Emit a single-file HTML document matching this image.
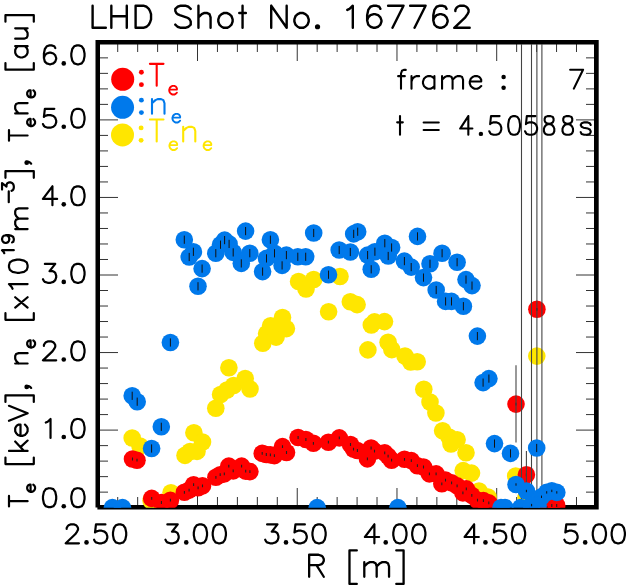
<!DOCTYPE html>
<html><head><meta charset="utf-8"><style>
html,body{margin:0;padding:0;background:#fff;}
body{width:627px;height:587px;overflow:hidden;font-family:"Liberation Sans",sans-serif;}
svg{display:block;}
</style></head><body>
<svg width="627" height="587" viewBox="0 0 627 587"><defs><clipPath id="pc"><rect x="97.76" y="42.35" width="498.64" height="465.3"/></clipPath></defs><path d="M117.71 505V497M117.71 44V52M137.66 505V497M137.66 44V52M157.61 505V497M157.61 44V52M177.55 505V497M177.55 44V52M197.5 505V488M197.5 44V61M217.45 505V497M217.45 44V52M237.39 505V497M237.39 44V52M257.34 505V497M257.34 44V52M277.29 505V497M277.29 44V52M297.24 505V488M297.24 44V61M317.18 505V497M317.18 44V52M337.13 505V497M337.13 44V52M357.08 505V497M357.08 44V52M377.02 505V497M377.02 44V52M396.97 505V488M396.97 44V61M416.92 505V497M416.92 44V52M436.86 505V497M436.86 44V52M456.81 505V497M456.81 44V52M476.76 505V497M476.76 44V52M496.7 505V488M496.7 44V61M516.65 505V497M516.65 44V52M536.6 505V497M536.6 44V52M556.55 505V497M556.55 44V52M576.49 505V497M576.49 44V52M100 492.14H108M594 492.14H586M100 476.63H108M594 476.63H586M100 461.12H108M594 461.12H586M100 445.61H108M594 445.61H586M100 430.1H118M594 430.1H576M100 414.59H108M594 414.59H586M100 399.08H108M594 399.08H586M100 383.57H108M594 383.57H586M100 368.06H108M594 368.06H586M100 352.55H118M594 352.55H576M100 337.04H108M594 337.04H586M100 321.53H108M594 321.53H586M100 306.02H108M594 306.02H586M100 290.51H108M594 290.51H586M100 275H118M594 275H576M100 259.49H108M594 259.49H586M100 243.98H108M594 243.98H586M100 228.47H108M594 228.47H586M100 212.96H108M594 212.96H586M100 197.45H118M594 197.45H576M100 181.94H108M594 181.94H586M100 166.43H108M594 166.43H586M100 150.92H108M594 150.92H586M100 135.41H108M594 135.41H586M100 119.9H118M594 119.9H576M100 104.39H108M594 104.39H586M100 88.88H108M594 88.88H586M100 73.37H108M594 73.37H586M100 57.86H108M594 57.86H586" stroke="#333" stroke-width="1" fill="none"/><path d="M95.5 40H598.7V509.6H97.4V507.5H95.5Z M100 44.4V505H594V44.4Z" fill="#000" fill-rule="evenodd"/><g clip-path="url(#pc)"><g fill="#ffe600"><circle cx="132.2" cy="438" r="8.8"/><circle cx="140" cy="446" r="8.8"/><circle cx="171" cy="492.8" r="8.8"/><circle cx="151" cy="500.5" r="8.8"/><circle cx="193.9" cy="432.8" r="8.8"/><circle cx="202.5" cy="442" r="8.8"/><circle cx="197" cy="451.4" r="8.8"/><circle cx="185" cy="455.4" r="8.8"/><circle cx="190" cy="451.5" r="8.8"/><circle cx="215.8" cy="408.2" r="8.8"/><circle cx="220.6" cy="394.5" r="8.8"/><circle cx="227" cy="390" r="8.8"/><circle cx="233.6" cy="385.5" r="8.8"/><circle cx="228.9" cy="367.8" r="8.8"/><circle cx="245.2" cy="378.5" r="8.8"/><circle cx="250" cy="389" r="8.8"/><circle cx="262.8" cy="343.2" r="8.8"/><circle cx="266.6" cy="333.6" r="8.8"/><circle cx="270.6" cy="325.8" r="8.8"/><circle cx="276.1" cy="337.1" r="8.8"/><circle cx="282.5" cy="317.5" r="8.8"/><circle cx="286.4" cy="328.6" r="8.8"/><circle cx="298.6" cy="281.5" r="8.8"/><circle cx="306" cy="289" r="8.8"/><circle cx="313.7" cy="279.5" r="8.8"/><circle cx="328.6" cy="311.8" r="8.8"/><circle cx="340" cy="276.5" r="8.8"/><circle cx="350.3" cy="301.7" r="8.8"/><circle cx="357.1" cy="304.6" r="8.8"/><circle cx="371.3" cy="325" r="8.8"/><circle cx="374.5" cy="321.9" r="8.8"/><circle cx="384.5" cy="321.6" r="8.8"/><circle cx="367.9" cy="349.9" r="8.8"/><circle cx="388.1" cy="342.3" r="8.8"/><circle cx="391.8" cy="349.6" r="8.8"/><circle cx="405" cy="356" r="8.8"/><circle cx="410.7" cy="362" r="8.8"/><circle cx="417.2" cy="361.8" r="8.8"/><circle cx="423.8" cy="389.2" r="8.8"/><circle cx="430" cy="402" r="8.8"/><circle cx="435.9" cy="413" r="8.8"/><circle cx="442.6" cy="430.8" r="8.8"/><circle cx="449" cy="437" r="8.8"/><circle cx="457.1" cy="439.7" r="8.8"/><circle cx="451" cy="444" r="8.8"/><circle cx="466" cy="452.8" r="8.8"/><circle cx="463.2" cy="470.6" r="8.8"/><circle cx="471.5" cy="473.1" r="8.8"/><circle cx="479" cy="491" r="8.8"/><circle cx="488" cy="497" r="8.8"/><circle cx="515.7" cy="476" r="8.8"/><circle cx="526" cy="498" r="8.8"/><circle cx="536.8" cy="356.1" r="8.8"/></g><g fill="#ff0000"><circle cx="132.5" cy="459" r="8.8"/><circle cx="137" cy="460.2" r="8.8"/><circle cx="151.7" cy="498.4" r="8.8"/><circle cx="161.4" cy="502.5" r="8.8"/><circle cx="170.4" cy="500.2" r="8.8"/><circle cx="184.4" cy="492.3" r="8.8"/><circle cx="189.1" cy="490.1" r="8.8"/><circle cx="193.6" cy="484.7" r="8.8"/><circle cx="198.1" cy="487.8" r="8.8"/><circle cx="202.5" cy="485.9" r="8.8"/><circle cx="215.9" cy="477.3" r="8.8"/><circle cx="220.2" cy="474.7" r="8.8"/><circle cx="224.3" cy="473.9" r="8.8"/><circle cx="228.8" cy="466.1" r="8.8"/><circle cx="233.2" cy="470.9" r="8.8"/><circle cx="241.6" cy="466.1" r="8.8"/><circle cx="245.7" cy="471.1" r="8.8"/><circle cx="249.9" cy="471.6" r="8.8"/><circle cx="262.2" cy="453.4" r="8.8"/><circle cx="266.3" cy="454.5" r="8.8"/><circle cx="270.4" cy="454.9" r="8.8"/><circle cx="274.4" cy="455.6" r="8.8"/><circle cx="282.5" cy="446.6" r="8.8"/><circle cx="286.5" cy="452.5" r="8.8"/><circle cx="298.1" cy="437.5" r="8.8"/><circle cx="305.9" cy="439.5" r="8.8"/><circle cx="313.4" cy="443.3" r="8.8"/><circle cx="328.4" cy="442.2" r="8.8"/><circle cx="339.3" cy="437.9" r="8.8"/><circle cx="350.5" cy="444.5" r="8.8"/><circle cx="353.5" cy="449.1" r="8.8"/><circle cx="357.4" cy="450.5" r="8.8"/><circle cx="367.4" cy="458.9" r="8.8"/><circle cx="371.1" cy="448" r="8.8"/><circle cx="374.5" cy="451.1" r="8.8"/><circle cx="384.7" cy="452.9" r="8.8"/><circle cx="388.1" cy="456.1" r="8.8"/><circle cx="391.6" cy="460.2" r="8.8"/><circle cx="404.5" cy="459.3" r="8.8"/><circle cx="411.3" cy="460.6" r="8.8"/><circle cx="417.4" cy="465.7" r="8.8"/><circle cx="423.5" cy="467" r="8.8"/><circle cx="429.4" cy="473.9" r="8.8"/><circle cx="436.1" cy="473.9" r="8.8"/><circle cx="441.8" cy="483.8" r="8.8"/><circle cx="445.5" cy="480.1" r="8.8"/><circle cx="451.6" cy="482.9" r="8.8"/><circle cx="457.1" cy="485.9" r="8.8"/><circle cx="462.9" cy="492.9" r="8.8"/><circle cx="466.3" cy="488.9" r="8.8"/><circle cx="471.8" cy="495.4" r="8.8"/><circle cx="477.5" cy="500.2" r="8.8"/><circle cx="483.4" cy="500.6" r="8.8"/><circle cx="488.8" cy="502.9" r="8.8"/><circle cx="516" cy="404.1" r="8.8"/><circle cx="526.4" cy="474.8" r="8.8"/><circle cx="536.9" cy="309.3" r="8.8"/><circle cx="547" cy="507.6" r="8.8"/><circle cx="551.8" cy="505.5" r="8.8"/><circle cx="556.7" cy="505.5" r="8.8"/></g><path d="M132.5 457.6V460.4M137 458.8V461.6M151.7 497V499.8M161.4 501.1V503.9M170.4 498.8V501.6M184.4 490.9V493.7M189.1 488.7V491.5M193.6 483.3V486.1M198.1 486.4V489.2M202.5 484.5V487.3M215.9 475.9V478.7M220.2 473.3V476.1M224.3 472.5V475.3M228.8 464.7V467.5M233.2 469.5V472.3M241.6 464.7V467.5M245.7 469.7V472.5M249.9 470.2V473M262.2 452V454.8M266.3 453.1V455.9M270.4 453.5V456.3M274.4 454.2V457M282.5 445.2V448M286.5 451.1V453.9M298.1 436.1V438.9M305.9 438.1V440.9M313.4 441.9V444.7M328.4 440.8V443.6M339.3 436.5V439.3M350.5 443.1V445.9M353.5 447.7V450.5M357.4 449.1V451.9M367.4 457.5V460.3M371.1 446.6V449.4M374.5 449.7V452.5M384.7 451.5V454.3M388.1 454.7V457.5M391.6 458.8V461.6M404.5 457.9V460.7M411.3 459.2V462M417.4 464.3V467.1M423.5 465.6V468.4M429.4 472.5V475.3M436.1 472.5V475.3M441.8 482.4V485.2M445.5 478.7V481.5M451.6 481.5V484.3M457.1 484.5V487.3M462.9 491.5V494.3M466.3 487.5V490.3M471.8 494V496.8M477.5 498.8V501.6M483.4 499.2V502M488.8 501.5V504.3M516 402.7V405.5M526.4 473.4V476.2M536.9 307.9V310.7M547 506.2V509M551.8 504.1V506.9M556.7 504.1V506.9" stroke="#222" stroke-width="1.1" fill="none"/><path d="M516 365.3V442.6M526.4 451V498M521.5 44V505M531.5 44V505M536.9 44V505M541.9 44V505" stroke="#444" stroke-width="1.1" fill="none"/><g fill="#0079eb"><circle cx="112.4" cy="507.6" r="8.8"/><circle cx="122.5" cy="507.6" r="8.8"/><circle cx="132.2" cy="395.8" r="8.8"/><circle cx="137.2" cy="401.7" r="8.8"/><circle cx="151.6" cy="448.5" r="8.8"/><circle cx="161.3" cy="426.8" r="8.8"/><circle cx="170.4" cy="342.5" r="8.8"/><circle cx="184.3" cy="239.7" r="8.8"/><circle cx="193.4" cy="251.8" r="8.8"/><circle cx="189.2" cy="257" r="8.8"/><circle cx="202.1" cy="268.6" r="8.8"/><circle cx="198" cy="286.3" r="8.8"/><circle cx="215.8" cy="253.2" r="8.8"/><circle cx="220.5" cy="244.7" r="8.8"/><circle cx="224.6" cy="240.1" r="8.8"/><circle cx="229.1" cy="243.9" r="8.8"/><circle cx="233.2" cy="252.4" r="8.8"/><circle cx="241.3" cy="263.4" r="8.8"/><circle cx="245.6" cy="231.1" r="8.8"/><circle cx="249.8" cy="253.2" r="8.8"/><circle cx="262.6" cy="271.6" r="8.8"/><circle cx="266.5" cy="258.4" r="8.8"/><circle cx="270.4" cy="239.7" r="8.8"/><circle cx="274.5" cy="253.3" r="8.8"/><circle cx="282.1" cy="265.4" r="8.8"/><circle cx="286.4" cy="255.1" r="8.8"/><circle cx="297.8" cy="256.8" r="8.8"/><circle cx="305.7" cy="256.8" r="8.8"/><circle cx="313.7" cy="233" r="8.8"/><circle cx="317.2" cy="507.6" r="8.8"/><circle cx="328.5" cy="274.7" r="8.8"/><circle cx="339.2" cy="250" r="8.8"/><circle cx="350.3" cy="252" r="8.8"/><circle cx="353.7" cy="233.9" r="8.8"/><circle cx="357.7" cy="231.7" r="8.8"/><circle cx="367.6" cy="255.1" r="8.8"/><circle cx="374.9" cy="251.7" r="8.8"/><circle cx="371.2" cy="269.3" r="8.8"/><circle cx="384.8" cy="243.2" r="8.8"/><circle cx="391.6" cy="247.5" r="8.8"/><circle cx="388.2" cy="256" r="8.8"/><circle cx="397.9" cy="507.6" r="8.8"/><circle cx="404.4" cy="261.1" r="8.8"/><circle cx="411.2" cy="267.1" r="8.8"/><circle cx="417.5" cy="236.4" r="8.8"/><circle cx="423.5" cy="277.6" r="8.8"/><circle cx="430" cy="263.8" r="8.8"/><circle cx="436.2" cy="290" r="8.8"/><circle cx="442.1" cy="253.2" r="8.8"/><circle cx="445.6" cy="301.4" r="8.8"/><circle cx="451.5" cy="301.4" r="8.8"/><circle cx="457.1" cy="262.2" r="8.8"/><circle cx="463.4" cy="306.2" r="8.8"/><circle cx="466" cy="279.6" r="8.8"/><circle cx="472" cy="285.6" r="8.8"/><circle cx="477.4" cy="336.1" r="8.8"/><circle cx="483.1" cy="382.6" r="8.8"/><circle cx="488.9" cy="378.6" r="8.8"/><circle cx="494.5" cy="443.6" r="8.8"/><circle cx="510.5" cy="453.4" r="8.8"/><circle cx="536.7" cy="448" r="8.8"/><circle cx="516" cy="484.5" r="8.8"/><circle cx="526.4" cy="491" r="8.8"/><circle cx="541.5" cy="496.8" r="8.8"/><circle cx="546.7" cy="492.4" r="8.8"/><circle cx="551.8" cy="490.9" r="8.8"/><circle cx="556.8" cy="492.4" r="8.8"/><circle cx="501" cy="507.6" r="8.8"/><circle cx="505" cy="507.6" r="8.8"/><circle cx="520.6" cy="507.6" r="8.8"/><circle cx="531.6" cy="505.1" r="8.8"/><circle cx="538" cy="505.5" r="8.8"/></g><path d="M132.2 391.7V399.9M137.2 397.6V405.8M151.6 444.4V452.6M161.3 422.7V430.9M170.4 338.4V346.6M184.3 235.6V243.8M193.4 247.7V255.9M189.2 252.9V261.1M202.1 264.5V272.7M198 282.2V290.4M215.8 249.1V257.3M220.5 240.6V248.8M224.6 236V244.2M229.1 239.8V248M233.2 248.3V256.5M241.3 259.3V267.5M245.6 227V235.2M249.8 249.1V257.3M262.6 267.5V275.7M266.5 254.3V262.5M270.4 235.6V243.8M274.5 249.2V257.4M282.1 261.3V269.5M286.4 251V259.2M297.8 252.7V260.9M305.7 252.7V260.9M313.7 228.9V237.1M328.5 270.6V278.8M339.2 245.9V254.1M350.3 247.9V256.1M353.7 229.8V238M357.7 227.6V235.8M367.6 251V259.2M374.9 247.6V255.8M371.2 265.2V273.4M384.8 239.1V247.3M391.6 243.4V251.6M388.2 251.9V260.1M404.4 257V265.2M411.2 263V271.2M417.5 232.3V240.5M423.5 273.5V281.7M430 259.7V267.9M436.2 285.9V294.1M442.1 249.1V257.3M445.6 297.3V305.5M451.5 297.3V305.5M457.1 258.1V266.3M463.4 302.1V310.3M466 275.5V283.7M472 281.5V289.7M477.4 332V340.2M483.1 378.5V386.7M488.9 374.5V382.7M494.5 439.5V447.7M510.5 449.3V457.5M536.7 443.9V452.1M516 483.3V485.7M526.4 489.8V492.2M541.5 495.6V498M546.7 491.2V493.6M551.8 489.7V492.1M556.8 491.2V493.6M531.6 503.9V506.3" stroke="#111" stroke-width="1" fill="none"/></g><circle cx="122.7" cy="79.25" r="11.5" fill="#ff0000"/><circle cx="122.55" cy="107.35" r="11.5" fill="#0079eb"/><circle cx="122.5" cy="134.9" r="11.5" fill="#ffe600"/><path d="M92.6 5.71L92.6 27.8M92.6 27.8L105.83 27.8M111.34 5.71L111.34 27.8M126.78 5.71L126.78 27.8M111.34 16.23L126.78 16.23M135.6 5.71L135.6 27.8M135.6 5.71L143.32 5.71L146.63 6.76L148.83 8.86L149.94 10.97L151.04 14.12L151.04 19.38L149.94 22.54L148.83 24.64L146.63 26.75L143.32 27.8L135.6 27.8M190.73 8.86L188.53 6.76L185.22 5.71L180.81 5.71L177.5 6.76L175.3 8.86L175.3 10.97L176.4 13.07L177.5 14.12L179.71 15.18L186.32 17.28L188.53 18.33L189.63 19.38L190.73 21.49L190.73 24.64L188.53 26.75L185.22 27.8L180.81 27.8L177.5 26.75L175.3 24.64M198.45 5.71L198.45 27.8M198.45 17.28L201.76 14.12L203.96 13.07L207.27 13.07L209.48 14.12L210.58 17.28L210.58 27.8M223.81 13.07L221.6 14.12L219.4 16.23L218.3 19.38L218.3 21.49L219.4 24.64L221.6 26.75L223.81 27.8L227.12 27.8L229.32 26.75L231.53 24.64L232.63 21.49L232.63 19.38L231.53 16.23L229.32 14.12L227.12 13.07L223.81 13.07M242.55 5.71L242.55 27.8M239.25 13.07L245.86 13.07M271.22 5.71L271.22 27.8M271.22 5.71L286.66 27.8M286.66 5.71L286.66 27.8M299.89 13.07L297.68 14.12L295.48 16.23L294.38 19.38L294.38 21.49L295.48 24.64L297.68 26.75L299.89 27.8L303.2 27.8L305.4 26.75L307.61 24.64L308.71 21.49L308.71 19.38L307.61 16.23L305.4 14.12L303.2 13.07L299.89 13.07M347.3 9.92L349.51 8.86L352.81 5.71L352.81 27.8M380.38 8.86L379.28 6.76L375.97 5.71L373.76 5.71L370.46 6.76L368.25 9.92L367.15 15.18L367.15 20.44L368.25 24.64L370.46 26.75L373.76 27.8L374.87 27.8L378.17 26.75L380.38 24.64L381.48 21.49L381.48 20.44L380.38 17.28L378.17 15.18L374.87 14.12L373.76 14.12L370.46 15.18L368.25 17.28L367.15 20.44M403.53 5.71L392.51 27.8M388.1 5.71L403.53 5.71M425.59 5.71L414.56 27.8M410.15 5.71L425.59 5.71M446.53 8.86L445.43 6.76L442.12 5.71L439.92 5.71L436.61 6.76L434.41 9.92L433.3 15.18L433.3 20.44L434.41 24.64L436.61 26.75L439.92 27.8L441.02 27.8L444.33 26.75L446.53 24.64L447.64 21.49L447.64 20.44L446.53 17.28L444.33 15.18L441.02 14.12L439.92 14.12L436.61 15.18L434.41 17.28L433.3 20.44M455.36 10.97L455.36 9.92L456.46 7.81L457.56 6.76L459.77 5.71L464.18 5.71L466.38 6.76L467.48 7.81L468.59 9.92L468.59 12.02L467.48 14.12L465.28 17.28L454.25 27.8L469.69 27.8" stroke="#000" stroke-width="2.4" fill="none" stroke-linecap="round" stroke-linejoin="round"/><g fill="#000"><circle cx="317.53" cy="26.75" r="2.6"/></g><path d="M48.64 488.25L45.8 489.15L43.91 491.85L42.97 496.35L42.97 499.05L43.91 503.55L45.8 506.25L48.64 507.15L50.53 507.15L53.36 506.25L55.25 503.55L56.2 499.05L56.2 496.35L55.25 491.85L53.36 489.15L50.53 488.25L48.64 488.25M76.99 488.25L74.16 489.15L72.27 491.85L71.32 496.35L71.32 499.05L72.27 503.55L74.16 506.25L76.99 507.15L78.88 507.15L81.72 506.25L83.61 503.55L84.55 499.05L84.55 496.35L83.61 491.85L81.72 489.15L78.88 488.25L76.99 488.25M45.8 422.6L47.7 421.7L50.53 419L50.53 437.9M76.99 419L74.16 419.9L72.27 422.6L71.32 427.1L71.32 429.8L72.27 434.3L74.16 437L76.99 437.9L78.88 437.9L81.72 437L83.61 434.3L84.55 429.8L84.55 427.1L83.61 422.6L81.72 419.9L78.88 419L76.99 419M43.91 345.95L43.91 345.05L44.86 343.25L45.8 342.35L47.7 341.45L51.47 341.45L53.36 342.35L54.31 343.25L55.25 345.05L55.25 346.85L54.31 348.65L52.42 351.35L42.97 360.35L56.2 360.35M76.99 341.45L74.16 342.35L72.27 345.05L71.32 349.55L71.32 352.25L72.27 356.75L74.16 359.45L76.99 360.35L78.88 360.35L81.72 359.45L83.61 356.75L84.55 352.25L84.55 349.55L83.61 345.05L81.72 342.35L78.88 341.45L76.99 341.45M44.86 263.9L55.25 263.9L49.58 271.1L52.42 271.1L54.31 272L55.25 272.9L56.2 275.6L56.2 277.4L55.25 280.1L53.36 281.9L50.53 282.8L47.7 282.8L44.86 281.9L43.91 281L42.97 279.2M76.99 263.9L74.16 264.8L72.27 267.5L71.32 272L71.32 274.7L72.27 279.2L74.16 281.9L76.99 282.8L78.88 282.8L81.72 281.9L83.61 279.2L84.55 274.7L84.55 272L83.61 267.5L81.72 264.8L78.88 263.9L76.99 263.9M52.42 186.35L42.97 198.95L57.14 198.95M52.42 186.35L52.42 205.25M76.99 186.35L74.16 187.25L72.27 189.95L71.32 194.45L71.32 197.15L72.27 201.65L74.16 204.35L76.99 205.25L78.88 205.25L81.72 204.35L83.61 201.65L84.55 197.15L84.55 194.45L83.61 189.95L81.72 187.25L78.88 186.35L76.99 186.35M54.31 108.8L44.86 108.8L43.91 116.9L44.86 116L47.7 115.1L50.53 115.1L53.36 116L55.25 117.8L56.2 120.5L56.2 122.3L55.25 125L53.36 126.8L50.53 127.7L47.7 127.7L44.86 126.8L43.91 125.9L42.97 124.1M76.99 108.8L74.16 109.7L72.27 112.4L71.32 116.9L71.32 119.6L72.27 124.1L74.16 126.8L76.99 127.7L78.88 127.7L81.72 126.8L83.61 124.1L84.55 119.6L84.55 116.9L83.61 112.4L81.72 109.7L78.88 108.8L76.99 108.8M55.25 48.1L54.31 46.3L51.47 45.4L49.58 45.4L46.75 46.3L44.86 49L43.91 53.5L43.91 58L44.86 61.6L46.75 63.4L49.58 64.3L50.53 64.3L53.36 63.4L55.25 61.6L56.2 58.9L56.2 58L55.25 55.3L53.36 53.5L50.53 52.6L49.58 52.6L46.75 53.5L44.86 55.3L43.91 58M76.99 45.4L74.16 46.3L72.27 49L71.32 53.5L71.32 56.2L72.27 60.7L74.16 63.4L76.99 64.3L78.88 64.3L81.72 63.4L83.61 60.7L84.55 56.2L84.55 53.5L83.61 49L81.72 46.3L78.88 45.4L76.99 45.4M66.67 528.9L66.67 528L67.62 526.2L68.56 525.3L70.45 524.4L74.23 524.4L76.12 525.3L77.07 526.2L78.01 528L78.01 529.8L77.07 531.6L75.18 534.3L65.73 543.3L78.96 543.3M105.42 524.4L95.97 524.4L95.02 532.5L95.97 531.6L98.8 530.7L101.64 530.7L104.47 531.6L106.36 533.4L107.31 536.1L107.31 537.9L106.36 540.6L104.47 542.4L101.64 543.3L98.8 543.3L95.97 542.4L95.02 541.5L94.08 539.7M118.65 524.4L115.81 525.3L113.92 528L112.98 532.5L112.98 535.2L113.92 539.7L115.81 542.4L118.65 543.3L120.54 543.3L123.37 542.4L125.26 539.7L126.21 535.2L126.21 532.5L125.26 528L123.37 525.3L120.54 524.4L118.65 524.4M167.35 524.4L177.75 524.4L172.07 531.6L174.91 531.6L176.8 532.5L177.75 533.4L178.69 536.1L178.69 537.9L177.75 540.6L175.85 542.4L173.02 543.3L170.19 543.3L167.35 542.4L166.41 541.5L165.46 539.7M199.48 524.4L196.64 525.3L194.75 528L193.81 532.5L193.81 535.2L194.75 539.7L196.64 542.4L199.48 543.3L201.37 543.3L204.2 542.4L206.09 539.7L207.04 535.2L207.04 532.5L206.09 528L204.2 525.3L201.37 524.4L199.48 524.4M218.38 524.4L215.54 525.3L213.66 528L212.71 532.5L212.71 535.2L213.66 539.7L215.54 542.4L218.38 543.3L220.27 543.3L223.1 542.4L225 539.7L225.94 535.2L225.94 532.5L225 528L223.1 525.3L220.27 524.4L218.38 524.4M267.09 524.4L277.48 524.4L271.81 531.6L274.65 531.6L276.54 532.5L277.48 533.4L278.43 536.1L278.43 537.9L277.48 540.6L275.59 542.4L272.75 543.3L269.92 543.3L267.09 542.4L266.14 541.5L265.19 539.7M304.88 524.4L295.44 524.4L294.49 532.5L295.44 531.6L298.27 530.7L301.1 530.7L303.94 531.6L305.83 533.4L306.77 536.1L306.77 537.9L305.83 540.6L303.94 542.4L301.1 543.3L298.27 543.3L295.44 542.4L294.49 541.5L293.54 539.7M318.11 524.4L315.28 525.3L313.39 528L312.44 532.5L312.44 535.2L313.39 539.7L315.28 542.4L318.11 543.3L320 543.3L322.84 542.4L324.73 539.7L325.67 535.2L325.67 532.5L324.73 528L322.84 525.3L320 524.4L318.11 524.4M374.38 524.4L364.93 537L379.11 537M374.38 524.4L374.38 543.3M398.95 524.4L396.12 525.3L394.22 528L393.28 532.5L393.28 535.2L394.22 539.7L396.12 542.4L398.95 543.3L400.84 543.3L403.68 542.4L405.56 539.7L406.51 535.2L406.51 532.5L405.56 528L403.68 525.3L400.84 524.4L398.95 524.4M417.85 524.4L415.01 525.3L413.12 528L412.18 532.5L412.18 535.2L413.12 539.7L415.01 542.4L417.85 543.3L419.74 543.3L422.57 542.4L424.46 539.7L425.41 535.2L425.41 532.5L424.46 528L422.57 525.3L419.74 524.4L417.85 524.4M474.12 524.4L464.66 537L478.84 537M474.12 524.4L474.12 543.3M504.35 524.4L494.9 524.4L493.96 532.5L494.9 531.6L497.74 530.7L500.57 530.7L503.41 531.6L505.3 533.4L506.24 536.1L506.24 537.9L505.3 540.6L503.41 542.4L500.57 543.3L497.74 543.3L494.9 542.4L493.96 541.5L493.01 539.7M517.58 524.4L514.75 525.3L512.86 528L511.91 532.5L511.91 535.2L512.86 539.7L514.75 542.4L517.58 543.3L519.47 543.3L522.31 542.4L524.2 539.7L525.14 535.2L525.14 532.5L524.2 528L522.31 525.3L519.47 524.4L517.58 524.4M575.74 524.4L566.29 524.4L565.35 532.5L566.29 531.6L569.12 530.7L571.96 530.7L574.8 531.6L576.69 533.4L577.63 536.1L577.63 537.9L576.69 540.6L574.8 542.4L571.96 543.3L569.12 543.3L566.29 542.4L565.35 541.5L564.4 539.7M598.42 524.4L595.59 525.3L593.7 528L592.75 532.5L592.75 535.2L593.7 539.7L595.59 542.4L598.42 543.3L600.31 543.3L603.15 542.4L605.04 539.7L605.98 535.2L605.98 532.5L605.04 528L603.15 525.3L600.31 524.4L598.42 524.4M617.32 524.4L614.49 525.3L612.6 528L611.65 532.5L611.65 535.2L612.6 539.7L614.49 542.4L617.32 543.3L619.21 543.3L622.05 542.4L623.94 539.7L624.88 535.2L624.88 532.5L623.94 528L622.05 525.3L619.21 524.4L617.32 524.4" stroke="#000" stroke-width="2.2" fill="none" stroke-linecap="round" stroke-linejoin="round"/><g fill="#000"><circle cx="63.76" cy="506.25" r="2.3"/><circle cx="63.76" cy="437" r="2.3"/><circle cx="63.76" cy="359.45" r="2.3"/><circle cx="63.76" cy="281.9" r="2.3"/><circle cx="63.76" cy="204.35" r="2.3"/><circle cx="63.76" cy="126.8" r="2.3"/><circle cx="63.76" cy="63.4" r="2.3"/><circle cx="86.52" cy="542.4" r="2.3"/><circle cx="186.25" cy="542.4" r="2.3"/><circle cx="285.99" cy="542.4" r="2.3"/><circle cx="385.72" cy="542.4" r="2.3"/><circle cx="485.45" cy="542.4" r="2.3"/><circle cx="585.19" cy="542.4" r="2.3"/></g><path d="M309.15 554.74L309.15 576.75M309.15 554.74L318.56 554.74L321.69 555.79L322.74 556.84L323.78 558.93L323.78 561.03L322.74 563.13L321.69 564.17L318.56 565.22L309.15 565.22M316.47 565.22L323.78 576.75M349.48 550.4L349.48 583.94M349.48 550.4L356.8 550.4M349.48 583.94L356.8 583.94M364.3 562.13L364.3 576.8M364.3 566.32L367.68 563.18L369.93 562.13L373.3 562.13L375.55 563.18L376.68 566.32L376.68 576.8M376.68 566.32L380.05 563.18L382.3 562.13L385.68 562.13L387.93 563.18L389.05 566.32L389.05 576.8M403.6 550.4L403.6 583.94M396.28 550.4L403.6 550.4M396.28 583.94L403.6 583.94" stroke="#000" stroke-width="2.3" fill="none" stroke-linecap="round" stroke-linejoin="round"/><path d="M405.78 69.91L403.87 69.91L401.96 70.8L401 73.48L401 88.7M398.14 76.17L404.82 76.17M411.5 76.17L411.5 88.7M411.5 81.54L412.46 78.86L414.37 77.06L416.28 76.17L419.14 76.17M434.43 76.17L434.43 88.7M434.43 78.86L432.52 77.06L430.61 76.17L427.74 76.17L425.83 77.06L423.92 78.86L422.97 81.54L422.97 83.33L423.92 86.02L425.83 87.81L427.74 88.7L430.61 88.7L432.52 87.81L434.43 86.02M442.06 76.17L442.06 88.7M442.06 79.75L444.93 77.06L446.84 76.17L449.7 76.17L451.62 77.06L452.57 79.75L452.57 88.7M452.57 79.75L455.44 77.06L457.35 76.17L460.21 76.17L462.12 77.06L463.07 79.75L463.07 88.7M469.76 81.54L481.22 81.54L481.22 79.75L480.26 77.96L479.31 77.06L477.4 76.17L474.53 76.17L472.62 77.06L470.71 78.86L469.76 81.54L469.76 83.33L470.71 86.02L472.62 87.81L474.53 88.7L477.4 88.7L479.31 87.81L481.22 86.02M583.04 69.8L573.84 88.6M570.16 69.8L583.04 69.8" stroke="#000" stroke-width="2.1" fill="none" stroke-linecap="round" stroke-linejoin="round"/><g fill="#000"><circle cx="503.6" cy="77.06" r="2.25"/><circle cx="503.6" cy="87.81" r="2.25"/></g><path d="M400 116.11L400 134.8M397.16 122.34L402.83 122.34M423.64 122.43L438.76 122.43M423.64 129.99L438.76 129.99M468.33 116.11L460.2 128.57L472.4 128.57M468.33 116.11L468.33 134.8M499.59 116.11L491.01 116.11L490.16 124.12L491.01 123.23L493.59 122.34L496.16 122.34L498.73 123.23L500.44 125.01L501.3 127.68L501.3 129.46L500.44 132.13L498.73 133.91L496.16 134.8L493.59 134.8L491.01 133.91L490.16 133.02L489.3 131.24M513.26 116.11L510.73 117L509.04 119.67L508.2 124.12L508.2 126.79L509.04 131.24L510.73 133.91L513.26 134.8L514.94 134.8L517.47 133.91L519.16 131.24L520 126.79L520 124.12L519.16 119.67L517.47 117L514.94 116.11L513.26 116.11M535.39 116.11L526.81 116.11L525.96 124.12L526.81 123.23L529.39 122.34L531.96 122.34L534.53 123.23L536.24 125.01L537.1 127.68L537.1 129.46L536.24 132.13L534.53 133.91L531.96 134.8L529.39 134.8L526.81 133.91L525.96 133.02L525.1 131.24M547.61 116.11L545.39 117L544.64 118.78L544.64 120.56L545.39 122.34L546.87 123.23L549.84 124.12L552.07 125.01L553.56 126.79L554.3 128.57L554.3 131.24L553.56 133.02L552.81 133.91L550.59 134.8L547.61 134.8L545.39 133.91L544.64 133.02L543.9 131.24L543.9 128.57L544.64 126.79L546.13 125.01L548.36 124.12L551.33 123.23L552.81 122.34L553.56 120.56L553.56 118.78L552.81 117L550.59 116.11L547.61 116.11M566.25 116.11L564 117L563.25 118.78L563.25 120.56L564 122.34L565.5 123.23L568.5 124.12L570.75 125.01L572.25 126.79L573 128.57L573 131.24L572.25 133.02L571.5 133.91L569.25 134.8L566.25 134.8L564 133.91L563.25 133.02L562.5 131.24L562.5 128.57L563.25 126.79L564.75 125.01L567 124.12L570 123.23L571.5 122.34L572.25 120.56L572.25 118.78L571.5 117L569.25 116.11L566.25 116.11M590.7 125.01L589.79 123.23L587.06 122.34L584.34 122.34L581.61 123.23L580.7 125.01L581.61 126.79L583.43 127.68L587.97 128.57L589.79 129.46L590.7 131.24L590.7 132.13L589.79 133.91L587.06 134.8L584.34 134.8L581.61 133.91L580.7 132.13" stroke="#000" stroke-width="2.1" fill="none" stroke-linecap="round" stroke-linejoin="round"/><g fill="#000"><circle cx="480.9" cy="133.91" r="2.2"/></g><path d="M156.7 63.86L156.7 85.7M149.91 63.86L163.49 63.86" stroke="#ff0000" stroke-width="2.1" fill="none" stroke-linecap="round" stroke-linejoin="round"/><g fill="#ff0000"><circle cx="141.4" cy="72.18" r="2.45"/><circle cx="141.4" cy="84.66" r="2.45"/></g><path d="M169.25 89.59L176.93 89.59L176.93 88.35L176.29 87.11L175.65 86.49L174.37 85.87L172.45 85.87L171.17 86.49L169.89 87.73L169.25 89.59L169.25 90.83L169.89 92.69L171.17 93.93L172.45 94.55L174.37 94.55L175.65 93.93L176.93 92.69" stroke="#ff0000" stroke-width="1.9" fill="none" stroke-linecap="round" stroke-linejoin="round"/><path d="M152 99.09L152 113.65M152 103.25L155.41 100.13L157.68 99.09L161.09 99.09L163.36 100.13L164.5 103.25L164.5 113.65" stroke="#0079eb" stroke-width="2.1" fill="none" stroke-linecap="round" stroke-linejoin="round"/><g fill="#0079eb"><circle cx="141.4" cy="100.13" r="2.45"/><circle cx="141.4" cy="112.61" r="2.45"/></g><path d="M172.45 117.59L180.13 117.59L180.13 116.35L179.49 115.11L178.85 114.49L177.57 113.87L175.65 113.87L174.37 114.49L173.09 115.73L172.45 117.59L172.45 118.83L173.09 120.69L174.37 121.93L175.65 122.55L177.57 122.55L178.85 121.93L180.13 120.69" stroke="#0079eb" stroke-width="1.9" fill="none" stroke-linecap="round" stroke-linejoin="round"/><path d="M156.7 119.56L156.7 141.4M149.91 119.56L163.49 119.56M183.2 126.84L183.2 141.4M183.2 131L186.5 127.88L188.7 126.84L192 126.84L194.2 127.88L195.3 131L195.3 141.4" stroke="#ffe600" stroke-width="2.1" fill="none" stroke-linecap="round" stroke-linejoin="round"/><g fill="#ffe600"><circle cx="141.1" cy="127.88" r="2.45"/><circle cx="141.1" cy="140.36" r="2.45"/></g><path d="M169.45 145.09L177.13 145.09L177.13 143.85L176.49 142.61L175.85 141.99L174.57 141.37L172.65 141.37L171.37 141.99L170.09 143.23L169.45 145.09L169.45 146.33L170.09 148.19L171.37 149.43L172.65 150.05L174.57 150.05L175.85 149.43L177.13 148.19M203.6 145.09L211.28 145.09L211.28 143.85L210.64 142.61L210 141.99L208.72 141.37L206.8 141.37L205.52 141.99L204.24 143.23L203.6 145.09L203.6 146.33L204.24 148.19L205.52 149.43L206.8 150.05L208.72 150.05L210 149.43L211.28 148.19" stroke="#ffe600" stroke-width="1.9" fill="none" stroke-linecap="round" stroke-linejoin="round"/><path d="M8.99 501.18L27.6 501.18M8.99 506.44L8.99 495.92M5.45 464.06L33.8 464.06M5.45 464.06L5.45 457.48M33.8 464.06L33.8 457.48M8.99 450.9L27.6 450.9M15.2 441.5L24.06 450.9M20.51 447.14L27.6 440.56M20.51 435.86L20.51 424.58L18.74 424.58L16.97 425.52L16.08 426.46L15.2 428.34L15.2 431.16L16.08 433.04L17.85 434.92L20.51 435.86L22.28 435.86L24.94 434.92L26.71 433.04L27.6 431.16L27.6 428.34L26.71 426.46L24.94 424.58M8.99 420.82L27.6 413.3M8.99 405.78L27.6 413.3M5.45 395.44L33.8 395.44M5.45 402.02L5.45 395.44M33.8 402.02L33.8 395.44M26.71 386.04L28.49 386.04L30.26 386.98L31.14 387.92M15.2 363.48L27.6 363.48M18.74 363.48L16.08 360.66L15.2 358.78L15.2 355.96L16.08 354.08L18.74 353.14L27.6 353.14M5.45 319.78L33.8 319.78M5.45 319.78L5.45 313.2M33.8 319.78L33.8 313.2M15.2 307.56L27.6 297.22M15.2 297.22L27.6 307.56M12.54 288.76L11.65 286.88L8.99 284.06L27.6 284.06M8.99 267.14L9.88 269.96L12.54 271.84L16.97 272.78L19.63 272.78L24.06 271.84L26.71 269.96L27.6 267.14L27.6 265.26L26.71 262.44L24.06 260.56L19.63 259.62L16.97 259.62L12.54 260.56L9.88 262.44L8.99 265.26L8.99 267.14M15.2 229.04L27.6 229.04M18.74 229.04L16.08 226.22L15.2 224.34L15.2 221.52L16.08 219.64L18.74 218.7L27.6 218.7M18.74 218.7L16.08 215.88L15.2 214L15.2 211.18L16.08 209.3L18.74 208.36L27.6 208.36M5.45 171.2L33.8 171.2M5.45 177.78L5.45 171.2M33.8 177.78L33.8 171.2M26.71 161.8L28.49 161.8L30.26 162.74L31.14 163.68M8.99 135.48L27.6 135.48M8.99 140.74L8.99 130.22M15.2 113.4L27.6 113.4M18.74 113.4L16.08 110.58L15.2 108.7L15.2 105.88L16.08 104L18.74 103.06L27.6 103.06M5.45 69.7L33.8 69.7M5.45 69.7L5.45 63.12M33.8 69.7L33.8 63.12M15.2 46.2L27.6 46.2M17.85 46.2L16.08 48.08L15.2 49.96L15.2 52.78L16.08 54.66L17.85 56.54L20.51 57.48L22.28 57.48L24.94 56.54L26.71 54.66L27.6 52.78L27.6 49.96L26.71 48.08L24.94 46.2M15.2 38.68L24.06 38.68L26.71 37.74L27.6 35.86L27.6 33.04L26.71 31.16L24.06 28.34M15.2 28.34L27.6 28.34M5.45 15.18L33.8 15.18M5.45 21.76L5.45 15.18M33.8 21.76L33.8 15.18" stroke="#000" stroke-width="2.2" fill="none" stroke-linecap="round" stroke-linejoin="round"/><g fill="#000"><circle cx="26.71" cy="386.98" r="2.38"/><circle cx="26.71" cy="162.74" r="2.38"/></g><path d="M30.57 491.86L30.57 484.66L29.45 484.66L28.33 485.26L27.77 485.86L27.21 487.06L27.21 488.86L27.77 490.06L28.89 491.26L30.57 491.86L31.69 491.86L33.37 491.26L34.49 490.06L35.05 488.86L35.05 487.06L34.49 485.86L33.37 484.66M30.57 347.58L30.57 340.38L29.45 340.38L28.33 340.98L27.77 341.58L27.21 342.78L27.21 344.58L27.77 345.78L28.89 346.98L30.57 347.58L31.69 347.58L33.37 346.98L34.49 345.78L35.05 344.58L35.05 342.78L34.49 341.58L33.37 340.38M4.28 253.2L3.72 252L2.04 250.2L13.8 250.2M5.96 235.2L7.64 235.8L8.76 237L9.32 238.8L9.32 239.4L8.76 241.2L7.64 242.4L5.96 243L5.4 243L3.72 242.4L2.6 241.2L2.04 239.4L2.04 238.8L2.6 237L3.72 235.8L5.96 235.2L8.76 235.2L11.56 235.8L13.24 237L13.8 238.8L13.8 240L13.24 241.8L12.12 242.4M8.76 202.2L8.76 191.4M2.04 189.6L2.04 183L6.52 186.6L6.52 184.8L7.08 183.6L7.64 183L9.32 182.4L10.44 182.4L12.12 183L13.24 184.2L13.8 186L13.8 187.8L13.24 189.6L12.68 190.2L11.56 190.8M30.57 126.16L30.57 118.96L29.45 118.96L28.33 119.56L27.77 120.16L27.21 121.36L27.21 123.16L27.77 124.36L28.89 125.56L30.57 126.16L31.69 126.16L33.37 125.56L34.49 124.36L35.05 123.16L35.05 121.36L34.49 120.16L33.37 118.96M30.57 97.5L30.57 90.3L29.45 90.3L28.33 90.9L27.77 91.5L27.21 92.7L27.21 94.5L27.77 95.7L28.89 96.9L30.57 97.5L31.69 97.5L33.37 96.9L34.49 95.7L35.05 94.5L35.05 92.7L34.49 91.5L33.37 90.3" stroke="#000" stroke-width="2.2" fill="none" stroke-linecap="round" stroke-linejoin="round"/></svg>
</body></html>
